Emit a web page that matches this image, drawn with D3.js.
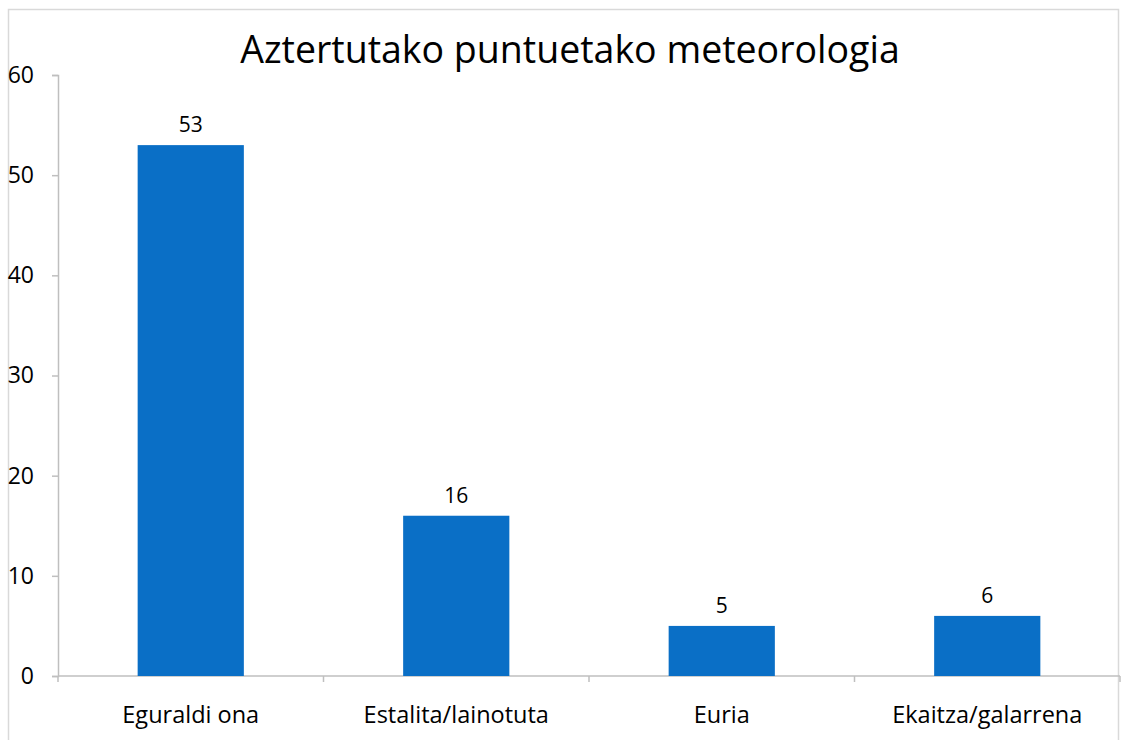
<!DOCTYPE html>
<html>
<head>
<meta charset="utf-8">
<script src="https://cdn.jsdelivr.net/npm/d3@7"></script>
<style>
  body { margin: 0; background: #fff; }
  svg { font-family: 'Open Sans', sans-serif; }
</style>
</head>
<body>
<div class="container"></div>
<script>
const categories = ['Eguraldi ona', 'Estalita/lainotuta', 'Euria', 'Ekaitza/galarrena'];
const values = [53, 16, 5, 6];
const yTicks = [0, 10, 20, 30, 40, 50, 60];
const title = 'Aztertutako puntuetako meteorologia';

const w = 1123;
const h = 740;
const margin = { top: 75, right: 3, bottom: 64, left: 58 };

const svg = d3
  .select('.container')
  .append('svg')
  .attr('width', w)
  .attr('height', h);

// faint frame of the original chart area
svg
  .append('path')
  .attr('d', `M8.5,${h} V9.5 H1118.5 V${h}`)
  .attr('fill', 'none')
  .attr('stroke', '#d9d9d9')
  .attr('stroke-width', 1.5);

const xScale = d3
  .scaleBand()
  .domain(categories)
  .range([margin.left, w - margin.right])
  .paddingInner(0.6)
  .paddingOuter(0.3);

const yScale = d3
  .scaleLinear()
  .domain([0, 60])
  .range([h - margin.bottom, margin.top]);

svg
  .append('text')
  .attr('x', 570)
  .attr('y', 63)
  .attr('text-anchor', 'middle')
  .style('font-size', '37.5px')
  .style('fill', '#000')
  .text(title);

// y axis
const yAxis = svg
  .append('g')
  .attr('transform', 'translate(' + margin.left + ',0)')
  .call(d3.axisLeft(yScale).tickValues(yTicks).tickSize(6).tickPadding(18));
yAxis.select('.domain').attr('stroke', '#bfbfbf').attr('stroke-width', 1.5);
yAxis.selectAll('.tick line').attr('stroke', '#bfbfbf').attr('stroke-width', 1.5);
yAxis
  .selectAll('.tick text')
  .style('font-size', '23px')
  .style('fill', '#000')
  .style('font-family', 'Open Sans, sans-serif');

// x axis: ticks on category boundaries
const step = xScale.step();
const x0 = margin.left;
const bounds = d3.range(categories.length + 1).map((i) => x0 + i * step);
const xAxisG = svg.append('g').attr('transform', 'translate(0,' + yScale(0) + ')');
xAxisG
  .append('line')
  .attr('x1', x0)
  .attr('x2', w - margin.right)
  .attr('stroke', '#bfbfbf')
  .attr('stroke-width', 1.5);
xAxisG
  .selectAll('.bound')
  .data(bounds)
  .enter()
  .append('line')
  .attr('x1', (d) => d)
  .attr('x2', (d) => d)
  .attr('y1', 0)
  .attr('y2', 6)
  .attr('stroke', '#bfbfbf')
  .attr('stroke-width', 1.5);
xAxisG
  .selectAll('.cat')
  .data(categories)
  .enter()
  .append('text')
  .attr('x', (d) => xScale(d) + xScale.bandwidth() / 2)
  .attr('y', 47)
  .attr('text-anchor', 'middle')
  .style('font-size', '23.5px')
  .style('fill', '#000')
  .text((d) => d);

// bars
svg
  .selectAll('rect.bar')
  .data(values)
  .enter()
  .append('rect')
  .attr('class', 'bar')
  .attr('x', (d, i) => xScale(categories[i]))
  .attr('y', (d) => yScale(d))
  .attr('width', xScale.bandwidth())
  .attr('height', (d) => yScale(0) - yScale(d))
  .style('fill', '#0a6fc6');

svg
  .selectAll('text.val')
  .data(values)
  .enter()
  .append('text')
  .attr('class', 'val')
  .attr('x', (d, i) => xScale(categories[i]) + xScale.bandwidth() / 2)
  .attr('y', (d) => yScale(d) - 13)
  .attr('text-anchor', 'middle')
  .style('font-size', '21px')
  .style('fill', '#000')
  .text((d) => d);
</script>
</body>
</html>
